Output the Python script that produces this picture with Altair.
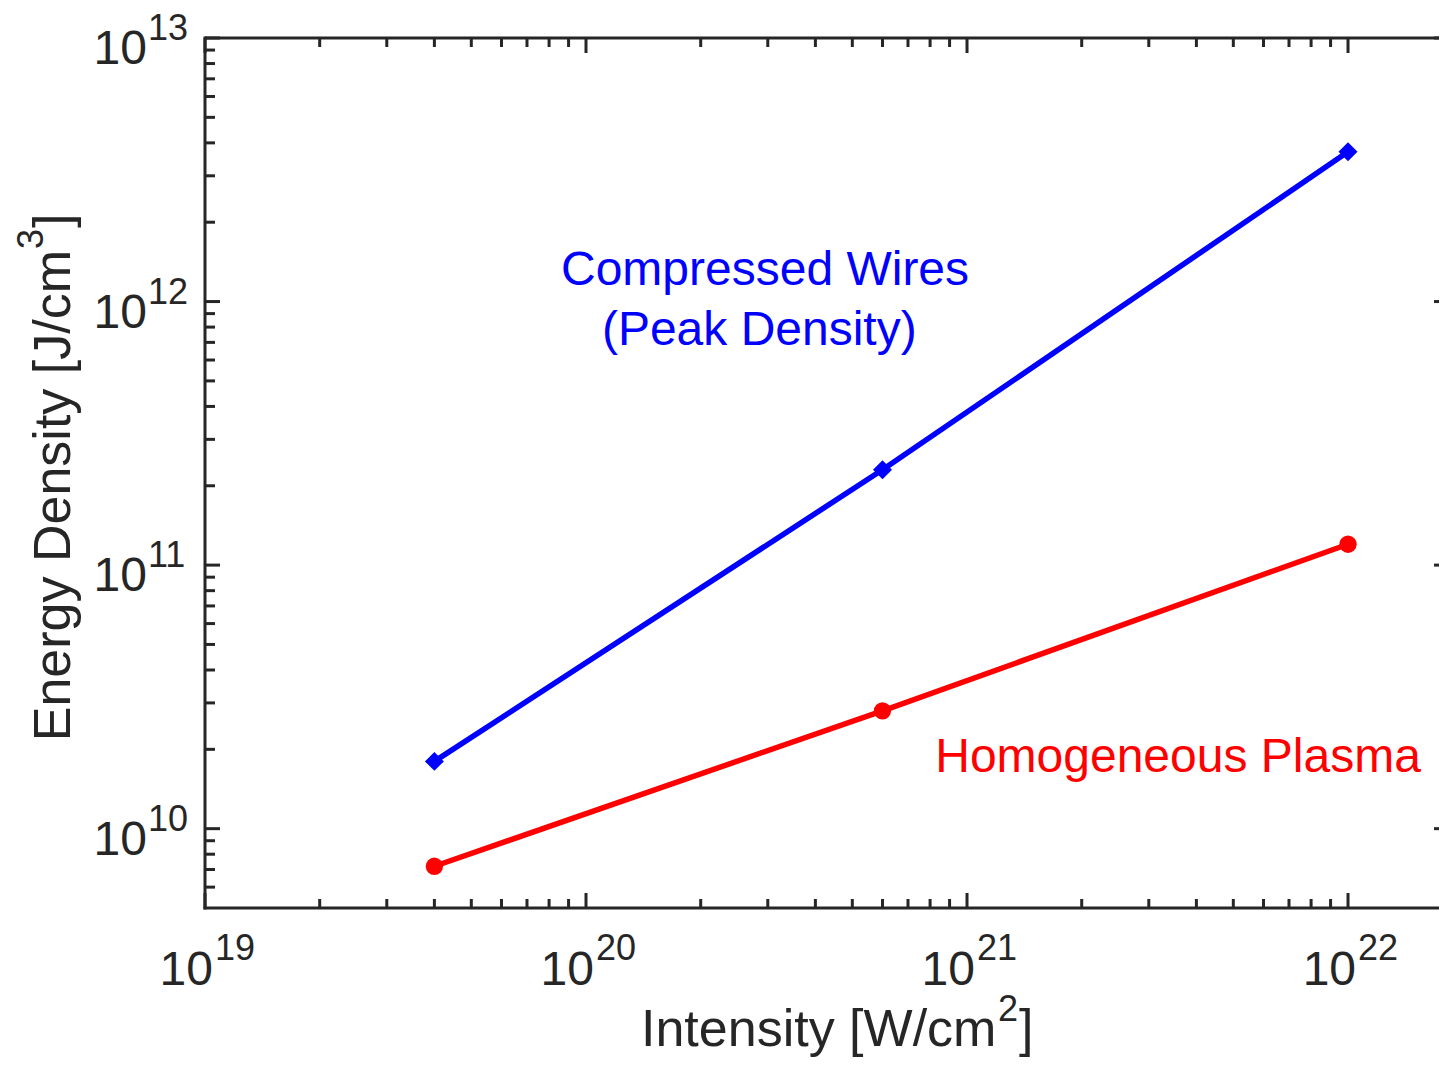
import altair as alt
import pandas as pd

# ---------------- data ----------------
intensity = [4e19, 6e20, 1e22]
wires = [1.8e10, 2.3e11, 3.7e12]
plasma = [7.2e9, 2.8e10, 1.2e11]
series_names = ["Compressed Wires", "Homogeneous Plasma"]
series_colors = ["#0000ff", "#ff0000"]
series_shapes = ["diamond", "circle"]

x_major = [1e19, 1e20, 1e21, 1e22]
x_exp = ["19", "20", "21", "22"]
y_major = [1e10, 1e11, 1e12, 1e13]
y_exp = ["10", "11", "12", "13"]
x_minor = [k * 10.0 ** e for e in (19, 20, 21) for k in range(2, 10)]
y_minor = [k * 10.0 ** e for e in (9, 10, 11, 12) for k in range(2, 10) if k * 10.0 ** e > 5e9]

ann_lines = ["Compressed Wires", "(Peak Density)", "Homogeneous Plasma"]
ann_series = ["Compressed Wires", "Compressed Wires", "Homogeneous Plasma"]
ann_x = [2.95e20, 2.85e20, 3.58e21]
ann_y = [1.16e12, 6.84e11, 1.64e10]

X_DOMAIN = [1e19, 1.733e22]
Y_DOMAIN = [5e9, 1e13]
W, H = 1234, 870
INK = "#262626"
FONT = "Liberation Sans"

# ---------------- tables ----------------
df = pd.DataFrame({
    "x": intensity * 2,
    "y": wires + plasma,
    "series": [series_names[0]] * 3 + [series_names[1]] * 3,
})
ann = pd.DataFrame({"x": ann_x, "y": ann_y, "text": ann_lines, "series": ann_series})
xmaj = pd.DataFrame({"x": x_major, "exp": x_exp})
ymaj = pd.DataFrame({"y": y_major, "exp": y_exp})
xmin = pd.DataFrame({"x": x_minor})
ymin = pd.DataFrame({"y": y_minor})
one = pd.DataFrame({"a": [0]})

xs = alt.Scale(type="log", domain=X_DOMAIN, nice=False)
ys = alt.Scale(type="log", domain=Y_DOMAIN, nice=False)
cs = alt.Scale(domain=series_names, range=series_colors)
ss = alt.Scale(domain=series_names, range=series_shapes)

X = lambda f="x": alt.X(f"{f}:Q", scale=xs, axis=None)
Y = lambda f="y": alt.Y(f"{f}:Q", scale=ys, axis=None)

lines = alt.Chart(df).mark_line(strokeWidth=5.5).encode(
    x=X(), y=Y(),
    color=alt.Color("series:N", scale=cs, legend=None),
    detail="series:N",
)
points = alt.Chart(df).mark_point(filled=True, opacity=1).encode(
    x=X(), y=Y(),
    color=alt.Color("series:N", scale=cs, legend=None),
    shape=alt.Shape("series:N", scale=ss, legend=None),
    size=alt.Size("series:N", scale=alt.Scale(domain=series_names, range=[360, 300]), legend=None),
)

spine = dict(color=INK, strokeWidth=3)
top_spine = alt.Chart(one).mark_rule(**spine).encode(
    x=alt.value(0), x2=alt.value(W), y=alt.value(0))
bottom_spine = alt.Chart(one).mark_rule(**spine).encode(
    x=alt.value(-1.5), x2=alt.value(W), y=alt.value(H))
left_spine = alt.Chart(one).mark_rule(**spine).encode(
    x=alt.value(0), y=alt.value(-1.5), y2=alt.value(H + 1.5))

tick_style = dict(color=INK, strokeWidth=3)
bot_major = alt.Chart(xmaj).mark_rule(**tick_style).encode(x=X(), y=alt.value(H), y2=alt.value(H - 15))
bot_minor = alt.Chart(xmin).mark_rule(**tick_style).encode(x=X(), y=alt.value(H), y2=alt.value(H - 9))
top_major = alt.Chart(xmaj).mark_rule(**tick_style).encode(x=X(), y=alt.value(0), y2=alt.value(15))
top_minor = alt.Chart(xmin).mark_rule(**tick_style).encode(x=X(), y=alt.value(0), y2=alt.value(9))
left_major = alt.Chart(ymaj).mark_rule(**tick_style).encode(y=Y(), x=alt.value(0), x2=alt.value(15))
left_minor = alt.Chart(ymin).mark_rule(**tick_style).encode(y=Y(), x=alt.value(0), x2=alt.value(10))
right_major = alt.Chart(ymaj).mark_rule(**tick_style).encode(y=Y(), x=alt.value(W), x2=alt.value(W - 5))

# tick labels (10 with superscript exponent)
xl_base = alt.Chart(xmaj).mark_text(text="10", font=FONT, fontSize=48, color=INK,
                                    align="right", baseline="alphabetic", dx=8).encode(
    x=X(), y=alt.value(947))
xl_exp = alt.Chart(xmaj).mark_text(font=FONT, fontSize=36, color=INK,
                                   align="left", baseline="alphabetic", dx=10).encode(
    x=X(), y=alt.value(922), text="exp:N")
yl_base = alt.Chart(ymaj).mark_text(text="10", font=FONT, fontSize=48, color=INK,
                                    align="right", baseline="alphabetic", dy=26).encode(
    y=Y(), x=alt.value(-58))
yl_exp = alt.Chart(ymaj).mark_text(font=FONT, fontSize=36, color=INK,
                                   align="left", baseline="alphabetic", dy=2).encode(
    y=Y(), x=alt.value(-57), text="exp:N")

# axis titles with superscripts
tf = dict(font=FONT, color=INK, baseline="alphabetic")
xt_main = alt.Chart(one).mark_text(text="Intensity [W/cm", fontSize=52, align="left", **tf).encode(
    x=alt.value(436), y=alt.value(1008))
xt_sup = alt.Chart(one).mark_text(text="2", fontSize=36, align="left", **tf).encode(
    x=alt.value(793), y=alt.value(983))
xt_end = alt.Chart(one).mark_text(text="]", fontSize=52, align="left", **tf).encode(
    x=alt.value(814), y=alt.value(1008))
yt_main = alt.Chart(one).mark_text(text="Energy Density [J/cm", fontSize=52, align="right",
                                   angle=270, **tf).encode(x=alt.value(-135), y=alt.value(212))
yt_sup = alt.Chart(one).mark_text(text="3", fontSize=36, align="left", angle=270, **tf).encode(
    x=alt.value(-162), y=alt.value(211))
yt_end = alt.Chart(one).mark_text(text="]", fontSize=52, align="left", angle=270, **tf).encode(
    x=alt.value(-135), y=alt.value(190))

annotations = alt.Chart(ann).mark_text(font=FONT, fontSize=48, align="center",
                                       baseline="alphabetic").encode(
    x=X(), y=Y(), text="text:N",
    color=alt.Color("series:N", scale=cs, legend=None))

chart = alt.layer(
    top_spine, bottom_spine, left_spine, bot_major, bot_minor, top_major, top_minor,
    left_major, left_minor, right_major, lines, points,
    xl_base, xl_exp, yl_base, yl_exp,
    xt_main, xt_sup, xt_end, yt_main, yt_sup, yt_end, annotations,
).properties(
    width=W, height=H,
    padding={"left": 197, "top": 30, "right": 0, "bottom": 151},
    autosize=alt.AutoSizeParams(type="none"),
    background="white",
).configure_view(stroke=None)

chart.save("out.html", embed_options={"renderer": "svg", "actions": False})
